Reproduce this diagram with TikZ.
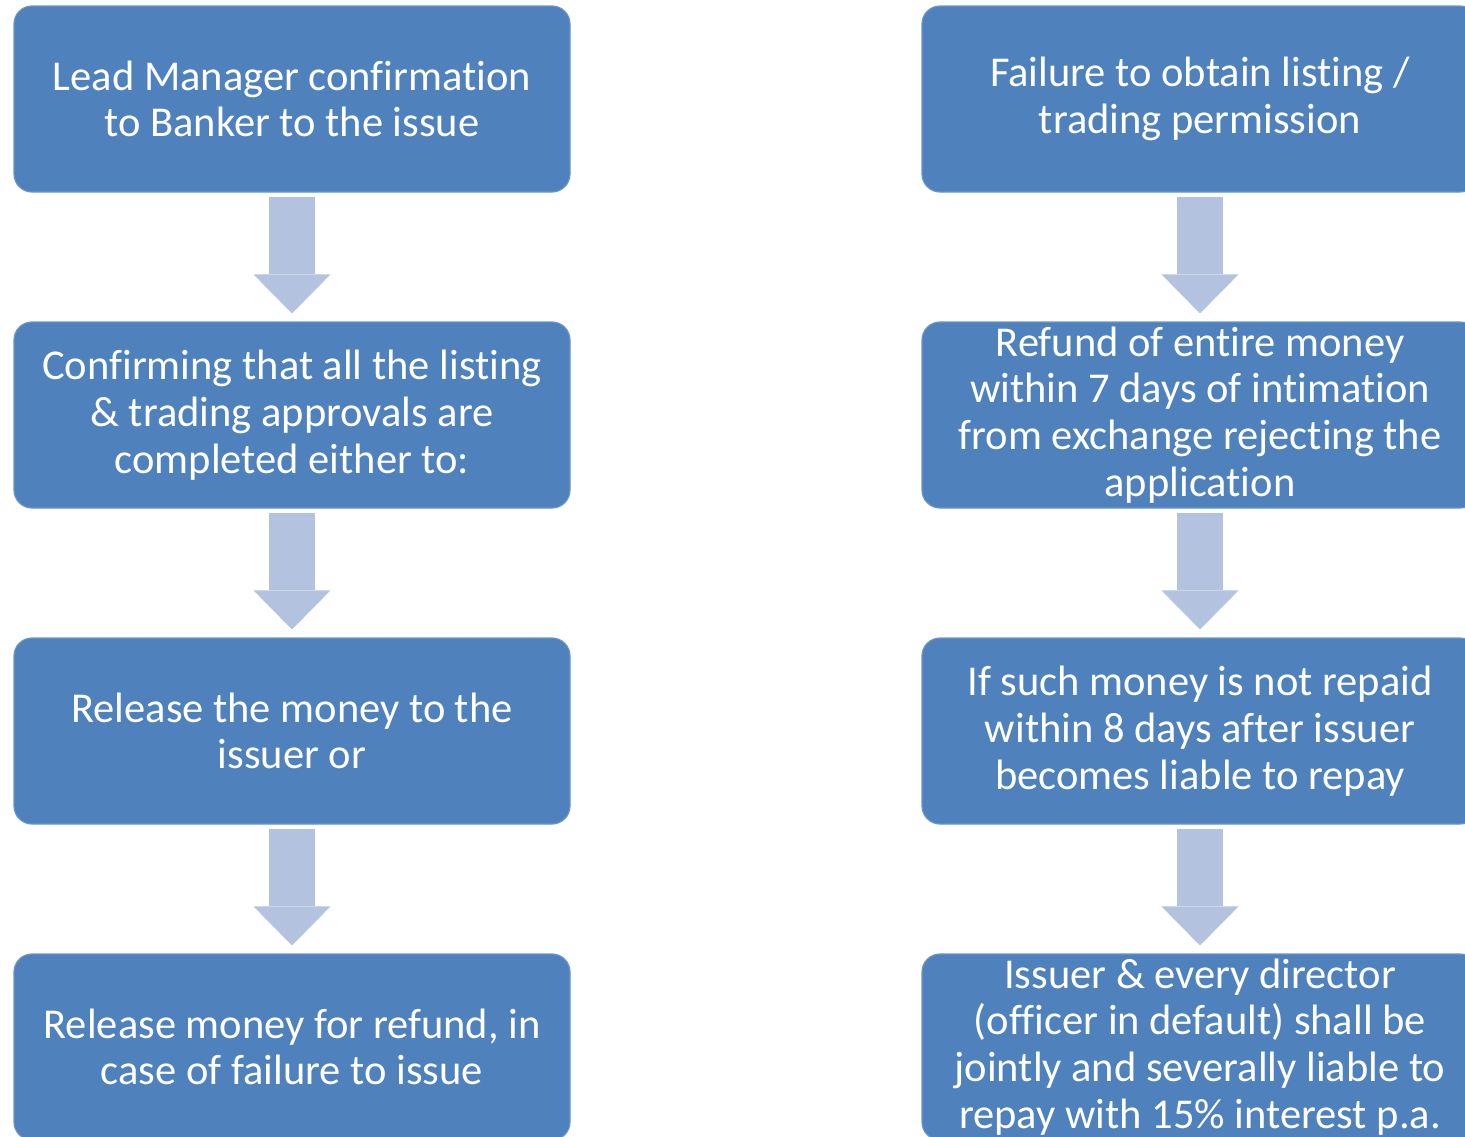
\documentclass[tikz,border=0pt]{standalone}
\usepackage{fontspec}
\setmainfont{Carlito}[Ligatures=NoCommon]
\usepackage{tikz}
\usetikzlibrary{positioning,arrows.meta,calc}
\usepackage{xcolor}
\definecolor{boxblue}{HTML}{4F81BD}
\definecolor{boxedge}{HTML}{6A95C9}
\definecolor{arrowblue}{HTML}{B3C2DE}

\begin{document}
\begin{tikzpicture}[
    x=1pt, y=-1pt,
    stepbox/.style={draw=boxedge, fill=boxblue, rounded corners=18pt, line width=1.2pt,
                    minimum width=556pt, minimum height=186pt, text=white, align=center,
                    font=\fontsize{42.5}{46.7}\selectfont},
    flow/.style={line width=46pt, arrowblue,
                 -{Triangle[width=77pt, length=39pt, line width=0pt]}}
  ]
  \useasboundingbox (0,0) rectangle (1465,1136);
  \clip (0,0) rectangle (1465,1136);
  % --- left column ---
  \node[stepbox] (l1) at (292,99) {Lead Manager confirmation\\to Banker to the issue};
  \node[stepbox] (l2) at (292,415) {Confirming that all the listing\\\& trading approvals are\\completed either to:};
  \node[stepbox] (l3) at (292,731) {Release the money to the\\issuer or};
  \node[stepbox] (l4) at (292,1047) {Release money for refund, in\\case of failure to issue};
  \draw[flow] ([yshift=-4pt]l1.south) -- ([yshift=8pt]l2.north);
  \draw[flow] ([yshift=-4pt]l2.south) -- ([yshift=8pt]l3.north);
  \draw[flow] ([yshift=-4pt]l3.south) -- ([yshift=8pt]l4.north);

  % --- right column ---
  \node[stepbox] (r1) at (1200,99) {Failure to obtain listing /\\trading permission};
  \node[stepbox] (r2) at (1200,415) {Refund of entire money\\within 7 days of intimation\\from exchange rejecting the\\application};
  \node[stepbox] (r3) at (1200,731) {If such money is not repaid\\within 8 days after issuer\\becomes liable to repay};
  \node[stepbox] (r4) at (1200,1047) {Issuer \& every director\\(officer in default) shall be\\jointly and severally liable to\\repay with 15\% interest p.a.};
  \draw[flow] ([yshift=-4pt]r1.south) -- ([yshift=8pt]r2.north);
  \draw[flow] ([yshift=-4pt]r2.south) -- ([yshift=8pt]r3.north);
  \draw[flow] ([yshift=-4pt]r3.south) -- ([yshift=8pt]r4.north);
\end{tikzpicture}
\end{document}
